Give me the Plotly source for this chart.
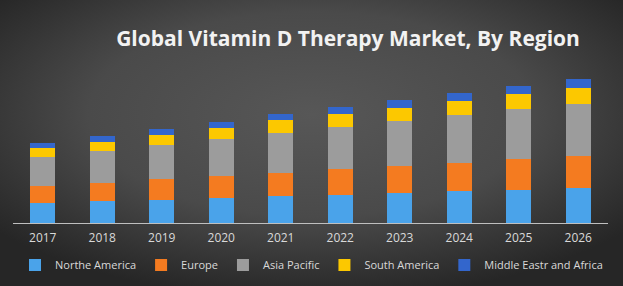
import plotly.graph_objects as go
import urllib.parse

years = ["2017", "2018", "2019", "2020", "2021", "2022", "2023", "2024", "2025", "2026"]
north_america = [20.3, 22.3, 23.3, 25.3, 27.3, 28.0, 30.0, 32.0, 33.3, 35.3]
europe = [16.7, 18.0, 20.7, 22.0, 23.0, 26.0, 27.0, 28.0, 30.7, 32.0]
asia_pacific = [29.3, 32.0, 34.0, 36.7, 40.0, 41.7, 45.0, 48.0, 50.0, 52.0]
south_america = [9.0, 9.0, 10.0, 11.0, 12.3, 13.0, 13.3, 14.3, 15.3, 16.0]
mea = [4.7, 5.7, 5.7, 5.7, 6.3, 7.3, 8.0, 7.7, 8.0, 8.7]

series = [
    ("Northe America", north_america, "#4aa3ea"),
    ("Europe", europe, "#f47b20"),
    ("Asia Pacific", asia_pacific, "#9c9c9c"),
    ("South America", south_america, "#fcc800"),
    ("Middle Eastr and Africa", mea, "#3366cc"),
]

fig = go.Figure()
for name, vals, col in series:
    fig.add_trace(go.Bar(x=years, y=vals, name=name, marker=dict(color=col, line=dict(width=0)),
                         width=0.42))

svg = ('<svg xmlns="http://www.w3.org/2000/svg" width="623" height="286">'
       '<defs><radialGradient id="g" cx="50%" cy="40%" r="65%">'
       '<stop offset="0%" stop-color="#575757"/><stop offset="55%" stop-color="#4a4a4a"/>'
       '<stop offset="100%" stop-color="#262626"/></radialGradient></defs>'
       '<rect width="623" height="286" fill="url(#g)"/></svg>')
src = "data:image/svg+xml;charset=utf-8," + urllib.parse.quote(svg)

fig.update_layout(
    width=623, height=286,
    barmode="stack",
    paper_bgcolor="#444444",
    plot_bgcolor="rgba(0,0,0,0)",
    margin=dict(l=13, r=15, t=63, b=63, autoexpand=False),
    images=[dict(source=src, xref="paper", yref="paper", x=-13/595, y=1+63/160,
                 sizex=623/595, sizey=286/160, xanchor="left", yanchor="top",
                 sizing="stretch", layer="below")],
    title=dict(text="<b>Global Vitamin D Therapy Market, By Region</b>", x=348/623, xanchor="center",
               y=1-39/286, yanchor="middle",
               font=dict(family="Open Sans", size=21, color="#f2f2f2")),
    xaxis=dict(showline=True, linecolor="#bfbfbf", linewidth=1, ticks="", showgrid=False,
               ticklabelstandoff=4,
               tickfont=dict(family="Open Sans", size=12, color="#d9d9d9"), range=[-0.5, 9.5]),
    yaxis=dict(visible=False, range=[0, 160], showgrid=False),
    legend=dict(orientation="h", x=0.5, xanchor="center", xref="container",
                y=1-265/286, yanchor="middle", yref="container", traceorder="normal",
                font=dict(family="Open Sans", size=11, color="#d9d9d9"),
                bgcolor="rgba(0,0,0,0)", itemwidth=30),
)

fig.write_html("out.html")
